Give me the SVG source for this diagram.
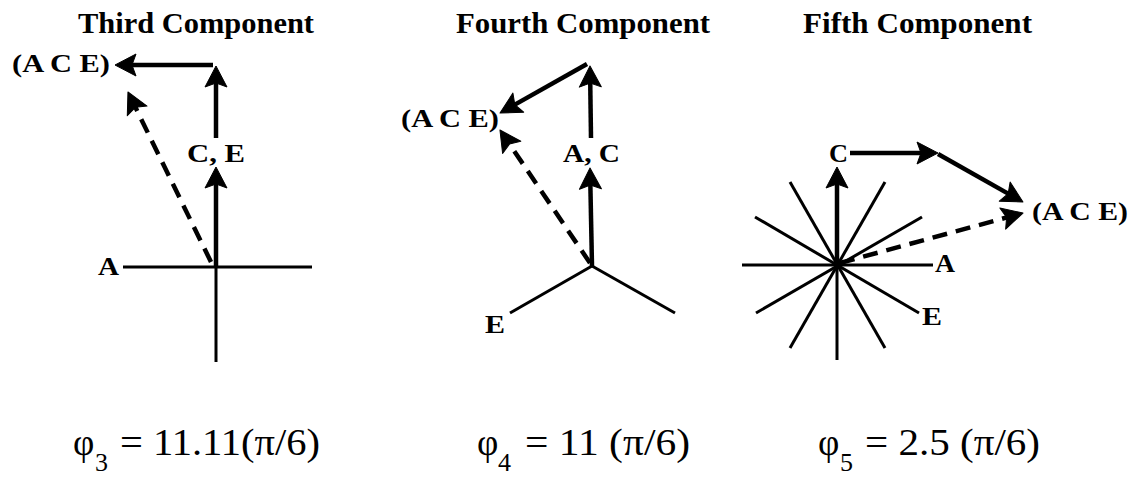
<svg xmlns="http://www.w3.org/2000/svg" width="1138" height="478" viewBox="0 0 1138 478">
<style>
.title{font-weight:bold;font-size:30px;fill:#000}
.lbl{font-weight:bold;font-size:26px;fill:#000}
.eq{font-size:37px;fill:#000}
.sub{font-size:26px;fill:#000}
.axis{stroke:#000;stroke-width:3;fill:none}
.vec{stroke:#000;stroke-width:4.5;fill:none;marker-end:url(#ah)}
.dash{stroke:#000;stroke-width:4.5;fill:none;stroke-dasharray:15 9;marker-end:url(#ah)}
</style>
<defs>
<marker id="ah" markerUnits="userSpaceOnUse" markerWidth="40" markerHeight="40" viewBox="-20 -20 40 40" refX="0" refY="0" orient="auto">
<path d="M14,0 L-7,-11 L-3,0 L-7,11 Z" fill="#000" stroke="#000" stroke-width="1" stroke-linejoin="round"/>
</marker>
</defs>
<rect width="1138" height="478" fill="#fff"/>

<g font-family="Liberation Serif, Tinos, Times New Roman, serif">
<g id="third">
<text class="title" x="78" y="33" textLength="236" lengthAdjust="spacingAndGlyphs">Third Component</text>
<line class="axis" x1="123" y1="267" x2="312" y2="267"/>
<line class="axis" x1="216" y1="267" x2="216" y2="362"/>
<text class="lbl" x="98" y="275" textLength="21" lengthAdjust="spacingAndGlyphs">A</text>
<text class="lbl" x="187" y="162" textLength="58" lengthAdjust="spacingAndGlyphs">C, E</text>
<text class="lbl" x="12" y="72" textLength="98" lengthAdjust="spacingAndGlyphs">(A C E)</text>
</g>

<g id="fourth">
<text class="title" x="456" y="33" textLength="254" lengthAdjust="spacingAndGlyphs">Fourth Component</text>
<line class="axis" x1="592" y1="266" x2="510" y2="313"/>
<line class="axis" x1="592" y1="266" x2="675" y2="313"/>
<text class="lbl" x="485" y="333" textLength="20" lengthAdjust="spacingAndGlyphs">E</text>
<text class="lbl" x="563" y="162" textLength="57" lengthAdjust="spacingAndGlyphs">A, C</text>
<text class="lbl" x="401" y="127" textLength="98" lengthAdjust="spacingAndGlyphs">(A C E)</text>
</g>

<g id="fifth">
<text class="title" x="803" y="33" textLength="229" lengthAdjust="spacingAndGlyphs">Fifth Component</text>
<line class="axis" x1="742" y1="265" x2="933" y2="265"/>
<line class="axis" x1="837" y1="265" x2="837" y2="360"/>
<line class="axis" x1="755" y1="217" x2="919" y2="313"/>
<line class="axis" x1="922" y1="217" x2="756" y2="313"/>
<line class="axis" x1="790" y1="182" x2="885" y2="348"/>
<line class="axis" x1="885" y1="182" x2="790" y2="348"/>
<text class="lbl" x="829" y="162" textLength="19" lengthAdjust="spacingAndGlyphs">C</text>
<text class="lbl" x="935" y="272" textLength="20" lengthAdjust="spacingAndGlyphs">A</text>
<text class="lbl" x="922" y="325" textLength="20" lengthAdjust="spacingAndGlyphs">E</text>
<text class="lbl" x="1032" y="220" textLength="96" lengthAdjust="spacingAndGlyphs">(A C E)</text>
</g>

<g id="formulas">
<text class="eq" x="73" y="455">φ</text>
<text class="sub" x="95" y="471">3</text>
<text class="eq" x="120" y="455" textLength="200" lengthAdjust="spacingAndGlyphs">= 11.11(π/6)</text>
<text class="eq" x="477" y="455">φ</text>
<text class="sub" x="498" y="471">4</text>
<text class="eq" x="525" y="455" textLength="165" lengthAdjust="spacingAndGlyphs">= 11 (π/6)</text>
<text class="eq" x="818" y="455">φ</text>
<text class="sub" x="840" y="471">5</text>
<text class="eq" x="865" y="455" textLength="175" lengthAdjust="spacingAndGlyphs">= 2.5 (π/6)</text>
</g>
</g>

<g id="connectors">
<line class="vec" x1="216" y1="267" x2="216" y2="181"/>
<line class="vec" x1="216" y1="138" x2="216" y2="80"/>
<line class="vec" x1="213" y1="65" x2="129" y2="65"/>
<line class="dash" x1="211" y1="262" x2="134.1" y2="104.6"/>

<line class="vec" x1="592" y1="266" x2="590.3" y2="182"/>
<line class="vec" x1="591" y1="138" x2="590.2" y2="80"/>
<line class="vec" x1="587" y1="64" x2="512.2" y2="106.1"/>
<line class="dash" x1="590" y1="263" x2="507.8" y2="141.6"/>

<line class="vec" x1="837" y1="265" x2="837" y2="181"/>
<line class="vec" x1="850" y1="153" x2="924" y2="153"/>
<line class="vec" x1="938" y1="154" x2="1010.8" y2="195.1"/>
<line class="dash" x1="840" y1="263" x2="1009.5" y2="216.7"/>
</g>
</svg>
